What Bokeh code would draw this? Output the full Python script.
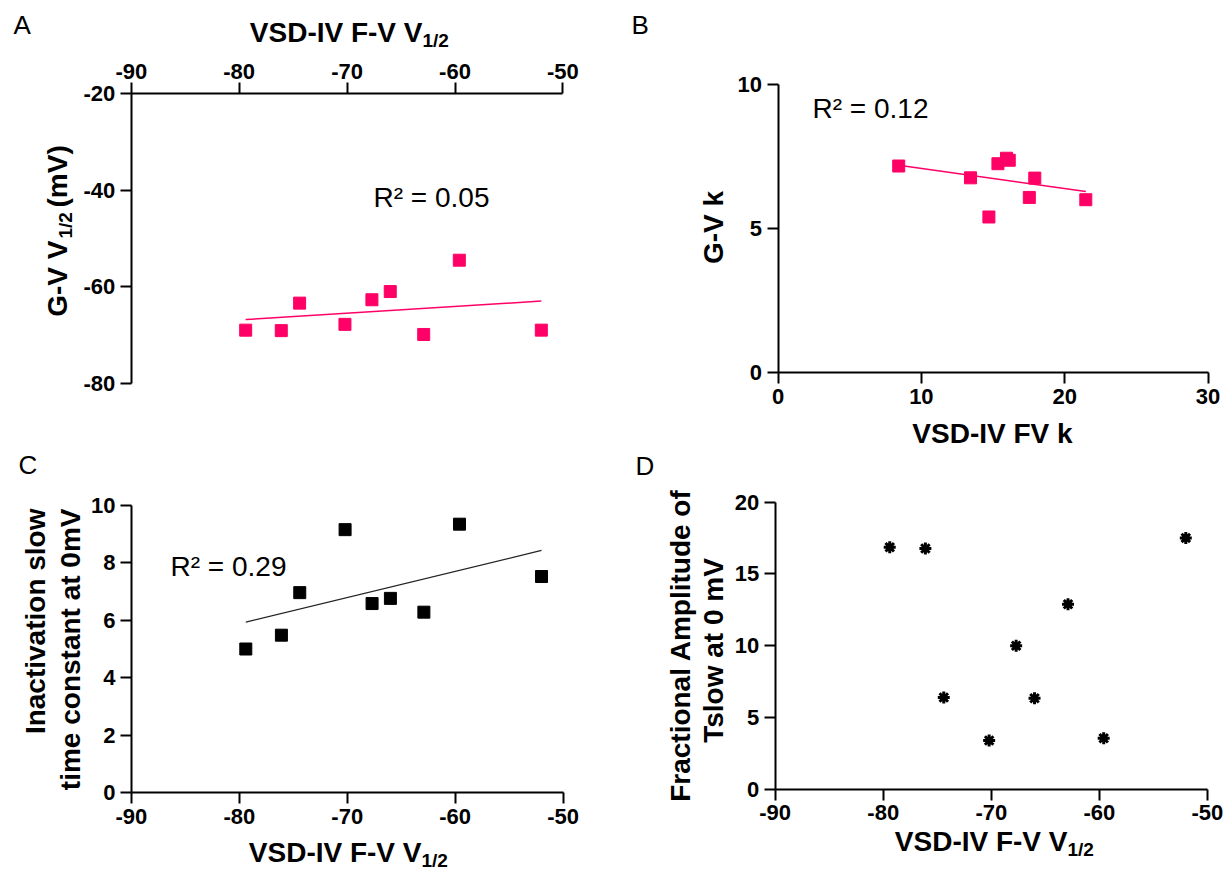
import numpy as np
from bokeh.plotting import figure
from bokeh.models import Range1d, FixedTicker, Label, LinearAxis
from bokeh.layouts import row, column
from bokeh.embed import file_html
from bokeh.resources import INLINE

# ---------------- data ----------------
VHALF = [-79.4, -76.1, -74.4, -70.2, -67.7, -66.0, -62.9, -59.6, -52.0]      # VSD-IV F-V V1/2
GV_VHALF = [-69.0, -69.1, -63.4, -67.8, -62.7, -61.0, -69.9, -54.5, -69.0]   # G-V V1/2 (mV)
FV_K = [8.42, 13.43, 15.34, 15.94, 16.13, 14.71, 17.91, 17.53, 21.47]         # VSD-IV FV k
GV_K = [7.18, 6.77, 7.26, 7.45, 7.38, 5.41, 6.76, 6.09, 6.01]                 # G-V k
TAU_SLOW = [5.0, 5.48, 6.96, 9.15, 6.58, 6.76, 6.28, 9.34, 7.52]              # slow time constant
FRAC_AMP = [16.86, 16.77, 6.39, 3.39, 10.0, 6.34, 12.89, 3.55, 17.51]         # fractional amplitude

VHALF_TICKS = [-90, -80, -70, -60, -50]
A_YTICKS = [-80, -60, -40, -20]
B_XTICKS = [0, 10, 20, 30]
B_YTICKS = [0, 5, 10]
C_YTICKS = [0, 2, 4, 6, 8, 10]
D_YTICKS = [0, 5, 10, 15, 20]

R2_A = "R\u00b2 = 0.05"
R2_B = "R\u00b2 = 0.12"
R2_C = "R\u00b2 = 0.29"

PINK = "#FF0066"
FONT = "Liberation Sans"
LETTER_FONT = "Liberation Sans"
TICK_SIZE = "22px"
TITLE_SIZE = 28
SUB_SIZE = 19
LETTER_SIZE = 26
ROT = np.pi / 2
BASELINE_FIX = 0.40   # empirical shift of the rendered alphabetic baseline (x font size)


def make_panel(ox, oy, W, H, px, py, xr, yr):
    """Figure covering a cell (ox, oy, W, H) of the page; the data box
    xr x yr is mapped to page pixels px=(left,right), py=(top,bottom)."""
    g = dict(px=px, py=py, xr=xr, yr=yr)
    xs, _ = to_data(g, ox, 0)
    xe, _ = to_data(g, ox + W, 0)
    _, ye = to_data(g, 0, oy)
    _, ys = to_data(g, 0, oy + H)
    p = figure(width=W, height=H, x_range=Range1d(xs, xe), y_range=Range1d(ys, ye),
               x_axis_type=None, y_axis_type=None, output_backend="svg",
               toolbar_location=None, min_border=0, outline_line_color=None,
               background_fill_color="white", border_fill_color="white")
    p.grid.visible = False
    return p, g


def to_data(g, rx, ry):
    (px0, px1), (py0, py1) = g["px"], g["py"]
    x0, x1 = g["xr"]
    y0, y1 = g["yr"]
    x = x0 + (rx - px0) / (px1 - px0) * (x1 - x0)
    y = y1 - (ry - py0) / (py1 - py0) * (y1 - y0)
    return x, y


def style_axis(ax, ticks, standoff):
    ax.ticker = FixedTicker(ticks=ticks)
    ax.major_label_overrides = {t: str(t) for t in ticks}
    ax.axis_line_width = 2
    ax.axis_line_color = "black"
    ax.major_tick_line_width = 2
    ax.major_tick_line_color = "black"
    ax.major_tick_out = 11
    ax.major_tick_in = 0
    ax.minor_tick_out = 0
    ax.minor_tick_in = 0
    ax.major_label_text_font = FONT
    ax.major_label_text_font_style = "bold"
    ax.major_label_text_font_size = TICK_SIZE
    ax.major_label_text_color = "black"
    ax.major_label_standoff = standoff


def add_axes(p, g, xticks, yticks, x_side):
    x0, x1 = g["xr"]
    y0, y1 = g["yr"]
    xa = LinearAxis(fixed_location=(y1 if x_side == "above" else y0), bounds=(x0, x1))
    style_axis(xa, xticks, 4 if x_side == "above" else 5)
    p.add_layout(xa, x_side)
    ya = LinearAxis(fixed_location=x0, bounds=(y0, y1))
    style_axis(ya, yticks, 5)
    p.add_layout(ya, "left")


def add_text(p, g, rx, ry, text, size, bold=False, align="left", angle=0.0,
             font=FONT):
    # rx, ry: page position of the text's baseline anchor
    if angle == 0.0:
        ry = ry - BASELINE_FIX * size
    else:
        rx = rx - BASELINE_FIX * size
    x, y = to_data(g, rx, ry)
    p.add_layout(Label(x=x, y=y, text=text, text_font=font,
                       text_font_size=f"{size}px",
                       text_font_style="bold" if bold else "normal",
                       text_align=align, text_baseline="alphabetic", angle=angle,
                       text_color="black"))


def fit_line(p, xs, ys, color, width):
    xs = np.asarray(xs, dtype=float)
    ys = np.asarray(ys, dtype=float)
    m, b = np.polyfit(xs, ys, 1)
    lx = np.array([xs.min(), xs.max()])
    p.line(lx, m * lx + b, line_color=color, line_width=width)


LW, RW = 605, 619      # column widths
TH_L, TH_R = 440, 451  # top-row heights
TOTAL_H = 871

# ---------------- Panel A ----------------
pA, gA = make_panel(0, 0, LW, TH_L, (130.8, 562.4), (93.3, 382.7), (-90, -50), (-80, -20))
add_axes(pA, gA, VHALF_TICKS, A_YTICKS, "above")
fit_line(pA, VHALF, GV_VHALF, PINK, 1.5)
pA.scatter(VHALF, GV_VHALF, marker="square", size=12, fill_color=PINK, line_color=PINK)
add_text(pA, gA, 13, 35, "A", LETTER_SIZE, font=LETTER_FONT)
add_text(pA, gA, 422, 43, "VSD-IV F-V V", TITLE_SIZE, bold=True, align="right")
add_text(pA, gA, 422, 48, "1/2", SUB_SIZE, bold=True, align="left")
add_text(pA, gA, 373, 208, R2_A, 28)
add_text(pA, gA, 68, 240, "G-V V", TITLE_SIZE, bold=True, align="right", angle=ROT)
add_text(pA, gA, 73, 238, "1/2", SUB_SIZE, bold=True, align="left", angle=ROT)
add_text(pA, gA, 68, 207, "(mV)", TITLE_SIZE, bold=True, align="left", angle=ROT)

# ---------------- Panel B ----------------
pB, gB = make_panel(LW, 0, RW, TH_R, (777.5, 1207.6), (84.3, 372.3), (0, 30), (0, 10))
add_axes(pB, gB, B_XTICKS, B_YTICKS, "below")
fit_line(pB, FV_K, GV_K, PINK, 1.5)
pB.scatter(FV_K, GV_K, marker="square", size=12, fill_color=PINK, line_color=PINK)
add_text(pB, gB, 631, 35, "B", LETTER_SIZE, font=LETTER_FONT)
add_text(pB, gB, 812, 119, R2_B, 28)
add_text(pB, gB, 724, 227, "G-V k", TITLE_SIZE, bold=True, align="center", angle=ROT)
add_text(pB, gB, 992, 444, "VSD-IV FV k", TITLE_SIZE, bold=True, align="center")

# ---------------- Panel C ----------------
pC, gC = make_panel(0, TH_L, LW, TOTAL_H - TH_L, (130.9, 562.6), (504.7, 792.3), (-90, -50), (0, 10))
add_axes(pC, gC, VHALF_TICKS, C_YTICKS, "below")
fit_line(pC, VHALF, TAU_SLOW, "#222222", 1.2)
pC.scatter(VHALF, TAU_SLOW, marker="square", size=12, fill_color="black", line_color="black")
add_text(pC, gC, 18, 475, "C", LETTER_SIZE, font=LETTER_FONT)
add_text(pC, gC, 170, 577, R2_C, 28)
add_text(pC, gC, 46, 508, "Inactivation slow", TITLE_SIZE, bold=True, align="right", angle=ROT)
add_text(pC, gC, 81, 508, "time constant at 0mV", TITLE_SIZE, bold=True, align="right", angle=ROT)
add_text(pC, gC, 421, 863, "VSD-IV F-V V", TITLE_SIZE, bold=True, align="right")
add_text(pC, gC, 421, 868, "1/2", SUB_SIZE, bold=True, align="left")

# ---------------- Panel D ----------------
pD, gD = make_panel(LW, TH_R, RW, TOTAL_H - TH_R, (774.7, 1206.9), (501.7, 788.7), (-90, -50), (0, 20))
add_axes(pD, gD, VHALF_TICKS, D_YTICKS, "below")
pD.scatter(VHALF, FRAC_AMP, marker="asterisk", size=12, line_width=3, line_color="black")
pD.scatter(VHALF, FRAC_AMP, marker="circle", size=7, fill_color="black", line_color="black")
add_text(pD, gD, 635, 476, "D", LETTER_SIZE, font=LETTER_FONT)
add_text(pD, gD, 691, 645, "Fractional Amplitude of", TITLE_SIZE, bold=True, align="center", angle=ROT)
add_text(pD, gD, 724, 650, "Tslow at 0 mV", TITLE_SIZE, bold=True, align="center", angle=ROT)
add_text(pD, gD, 1067, 852, "VSD-IV F-V V", TITLE_SIZE, bold=True, align="right")
add_text(pD, gD, 1067, 857, "1/2", SUB_SIZE, bold=True, align="left")

layout = row(column(pA, pC, spacing=0), column(pB, pD, spacing=0), spacing=0)

open("out.html", "w").write(file_html(layout, INLINE))
